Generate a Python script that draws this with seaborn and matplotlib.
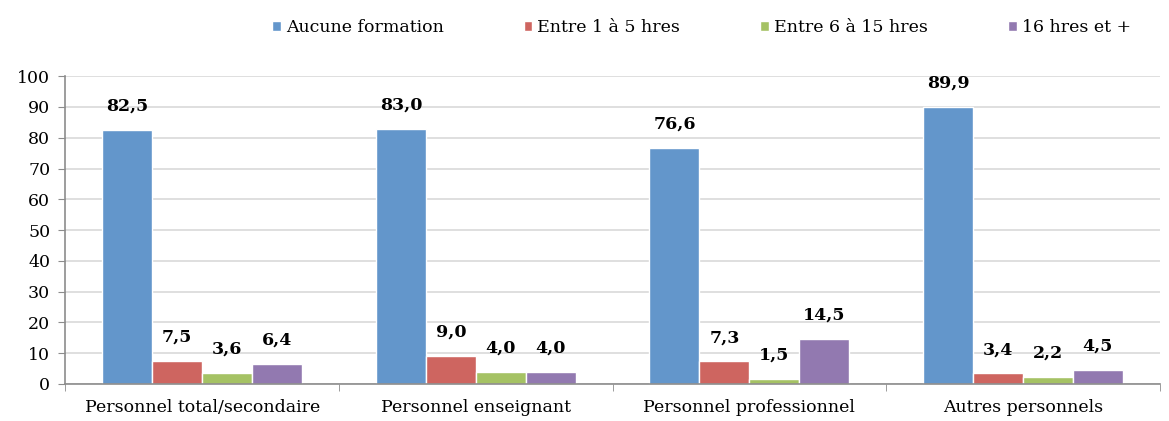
import pandas as pd
import matplotlib.pyplot as plt
import seaborn as sns
from matplotlib.ticker import FixedLocator

categories = ["Personnel total/secondaire", "Personnel enseignant",
              "Personnel professionnel", "Autres personnels"]
series = ["Aucune formation", "Entre 1 à 5 hres", "Entre 6 à 15 hres", "16 hres et +"]
aucune = [82.5, 83.0, 76.6, 89.9]
entre_1_5 = [7.5, 9.0, 7.3, 3.4]
entre_6_15 = [3.6, 4.0, 1.5, 2.2]
plus_16 = [6.4, 4.0, 14.5, 4.5]
colors = ["#6396CB", "#CE6560", "#A5C264", "#9279B0"]

rows = []
for s, vals in zip(series, [aucune, entre_1_5, entre_6_15, plus_16]):
    for c, v in zip(categories, vals):
        rows.append({"cat": c, "serie": s, "val": v})
df = pd.DataFrame(rows)

sns.set_style("white")
plt.rcParams["font.family"] = ["DejaVu Serif"]
plt.rcParams["text.color"] = "black"

fig = plt.figure(figsize=(11.69, 4.21), dpi=100)
ax = fig.add_axes([0.056, 0.088, 0.936, 0.731])

sns.barplot(data=df, x="cat", y="val", hue="serie", palette=colors, saturation=1,
            width=0.73, edgecolor="white", linewidth=1.0, ax=ax, legend=True)

for cont in ax.containers:
    ax.bar_label(cont, labels=[f"{v:.1f}".replace(".", ",") for v in cont.datavalues],
                 padding=11, fontsize=12.5, fontweight="bold", color="black")

ax.set_ylim(0, 100)
ax.set_xlim(-0.5, 3.5)
ax.set_yticks(range(0, 101, 10))
ax.yaxis.grid(True, color="#D9D9D9", linewidth=1.2)
ax.set_axisbelow(True)
for side in ["top", "right"]:
    ax.spines[side].set_visible(False)
for side in ["left", "bottom"]:
    ax.spines[side].set_color("#8C8C8C")
    ax.spines[side].set_linewidth(1.2)
ax.set_xlabel("")
ax.set_ylabel("")
ax.tick_params(axis="both", labelsize=12.5, labelcolor="black")
ax.tick_params(axis="x", length=0, pad=11)
ax.tick_params(axis="y", length=5, direction="out", color="#8C8C8C", left=True, pad=6)
ax.xaxis.set_minor_locator(FixedLocator([-0.5, 0.5, 1.5, 2.5, 3.5]))
ax.tick_params(axis="x", which="minor", length=5, color="#8C8C8C", bottom=True)

handles, labels = ax.get_legend_handles_labels()
ax.get_legend().remove()
fig.legend(handles, labels, loc="center", bbox_to_anchor=(0.6, 0.935), ncol=4,
           frameon=False, fontsize=12.5, handlelength=0.5, handleheight=0.5,
           handletextpad=0.3, columnspacing=4.6)

fig.savefig("out.png", dpi=100)
